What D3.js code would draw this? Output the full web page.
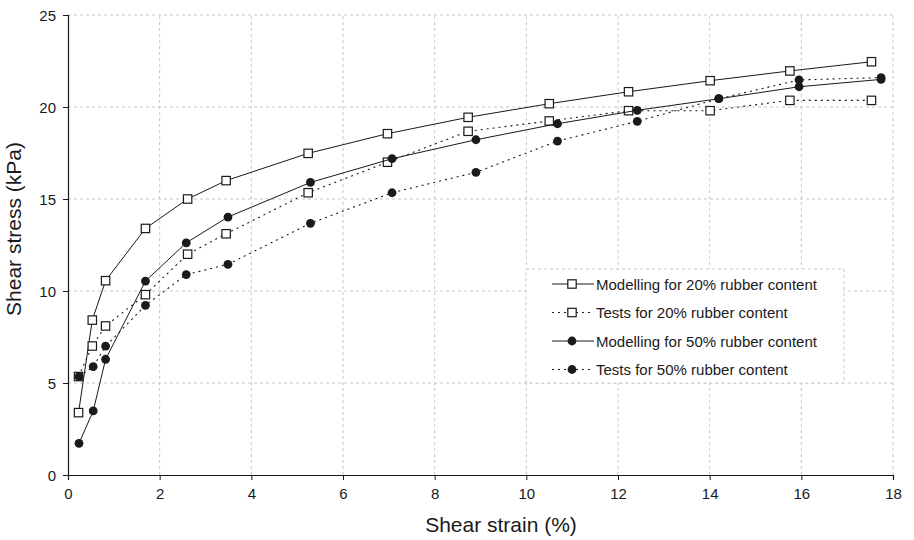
<!DOCTYPE html>
<html>
<head>
<meta charset="utf-8">
<script src="https://cdn.jsdelivr.net/npm/d3@7"></script>
<style>
  html, body { margin: 0; padding: 0; background: #fff; }
  svg { display: block; font-family: "Liberation Sans", Arial, Helvetica, sans-serif; }
</style>
</head>
<body>
<svg id="chart" width="914" height="540"></svg>
<script>
// ---- data ----
const strain20 = [0.23, 0.53, 0.82, 1.69, 2.61, 3.45, 5.24, 6.97, 8.73, 10.5, 12.23, 14.01, 15.75, 17.53];
const model20  = [3.39, 8.42, 10.56, 13.4, 15.0, 16.0, 17.48, 18.55, 19.44, 20.18, 20.83, 21.43, 21.96, 22.46];
const tests20  = [5.35, 7.01, 8.1, 9.8, 12.0, 13.11, 15.34, 17.0, 18.68, 19.24, 19.8, 19.8, 20.36, 20.36];
const strain50 = [0.24, 0.55, 0.82, 1.69, 2.58, 3.49, 5.29, 7.07, 8.9, 10.68, 12.42, 14.2, 15.95, 17.74];
const model50  = [1.72, 3.48, 6.29, 10.54, 12.62, 14.02, 15.9, 17.19, 18.22, 19.09, 19.82, 20.45, 21.1, 21.5];
const tests50  = [5.35, 5.89, 7.0, 9.22, 10.89, 11.45, 13.68, 15.34, 16.45, 18.15, 19.22, 20.45, 21.47, 21.6];
const xTicks = [0, 2, 4, 6, 8, 10, 12, 14, 16, 18];
const yTicks = [0, 5, 10, 15, 20, 25];
const seriesNames = ["Modelling for 20% rubber content", "Tests for 20% rubber content",
                     "Modelling for 50% rubber content", "Tests for 50% rubber content"];
const xTitle = "Shear strain (%)";
const yTitle = "Shear stress (kPa)";

const series = [
  { name: seriesNames[0], x: strain20, y: model20, dashed: false, marker: "square" },
  { name: seriesNames[1], x: strain20, y: tests20, dashed: true,  marker: "square" },
  { name: seriesNames[2], x: strain50, y: model50, dashed: false, marker: "circle" },
  { name: seriesNames[3], x: strain50, y: tests50, dashed: true,  marker: "circle" }
];

// ---- layout ----
const W = 914, H = 540;
const m = { left: 68, right: 21, top: 15, bottom: 65 };
const svg = d3.select("#chart");
const x = d3.scaleLinear().domain([0, 18]).range([m.left, W - m.right]);
const y = d3.scaleLinear().domain([0, 25]).range([H - m.bottom, m.top]);
const ink = "#1a1a1a";
const gridCol = "#c6c6c6";

// grid
const grid = svg.append("g");
grid.selectAll("line.v").data(xTicks.filter(d => d > 0)).join("line")
  .attr("x1", d => x(d)).attr("x2", d => x(d))
  .attr("y1", y(0)).attr("y2", y(25))
  .attr("stroke", gridCol).attr("stroke-width", 1).attr("stroke-dasharray", "3,3");
grid.selectAll("line.h").data(yTicks.filter(d => d > 0)).join("line")
  .attr("y1", d => y(d)).attr("y2", d => y(d))
  .attr("x1", x(0)).attr("x2", x(18))
  .attr("stroke", gridCol).attr("stroke-width", 1).attr("stroke-dasharray", "3,3");

// axes
const xAxis = svg.append("g").attr("transform", `translate(0,${y(0)})`)
  .call(d3.axisBottom(x).tickValues(xTicks).tickSize(5).tickPadding(8).tickFormat(d3.format("d")));
const yAxis = svg.append("g").attr("transform", `translate(${x(0)},0)`)
  .call(d3.axisLeft(y).tickValues(yTicks).tickSize(5).tickPadding(7).tickFormat(d3.format("d")));
[xAxis, yAxis].forEach(a => {
  a.select(".domain").attr("stroke", ink).attr("stroke-width", 1.2);
  a.selectAll(".tick line").attr("stroke", ink).attr("stroke-width", 1);
  a.selectAll(".tick text").attr("fill", ink).attr("font-size", 15);
});
yAxis.selectAll(".tick text").attr("dy", "0.35em");

// titles
svg.append("text").attr("x", 501).attr("y", 532).attr("text-anchor", "middle")
  .attr("font-size", 21).attr("fill", ink).text(xTitle);
svg.append("text").attr("transform", `translate(21,${229}) rotate(-90)`).attr("text-anchor", "middle")
  .attr("font-size", 21).attr("fill", ink).text(yTitle);

// series
const line = d3.line().x(d => x(d[0])).y(d => y(d[1]));
function drawMarker(g, type, cx, cy) {
  if (type === "square") {
    g.append("rect").attr("x", cx - 4.2).attr("y", cy - 4.2).attr("width", 8.4).attr("height", 8.4)
      .attr("fill", "#fff").attr("stroke", ink).attr("stroke-width", 1.2);
  } else {
    g.append("circle").attr("cx", cx).attr("cy", cy).attr("r", 4.4).attr("fill", ink);
  }
}
series.forEach(s => {
  const pts = s.x.map((v, i) => [v, s.y[i]]);
  const g = svg.append("g");
  g.append("path").attr("d", line(pts)).attr("fill", "none").attr("stroke", ink)
    .attr("stroke-width", s.dashed ? 1.1 : 1)
    .attr("stroke-dasharray", s.dashed ? "2,4" : null);
  pts.forEach(p => drawMarker(g, s.marker, x(p[0]), y(p[1])));
});

// legend
const lg = svg.append("g");
lg.append("rect").attr("x", 526).attr("y", 269).attr("width", 318).attr("height", 114)
  .attr("fill", "#fff").attr("stroke", gridCol).attr("stroke-width", 1).attr("stroke-dasharray", "3,3");
const rowY = [284, 312.5, 341, 369.5];
series.forEach((s, i) => {
  const gy = rowY[i];
  lg.append("line").attr("x1", 552).attr("x2", 594).attr("y1", gy).attr("y2", gy)
    .attr("stroke", ink).attr("stroke-width", s.dashed ? 1.1 : 1)
    .attr("stroke-dasharray", s.dashed ? "2,4" : null);
  drawMarker(lg, s.marker, 572, gy);
  lg.append("text").attr("x", 596).attr("y", gy + 5.5).attr("font-size", 15).attr("fill", ink).text(s.name);
});
</script>
</body>
</html>
